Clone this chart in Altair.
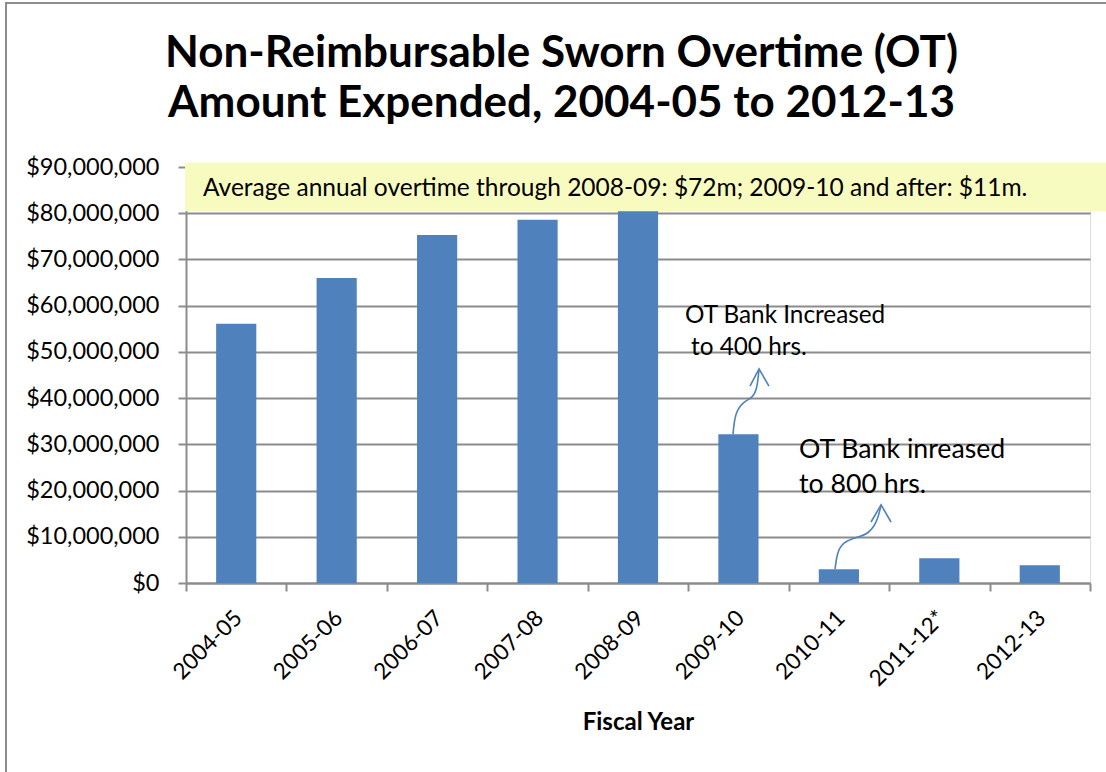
import altair as alt
import pandas as pd

# Fiscal years and non-reimbursable sworn overtime spent in each
years = ["2004-05", "2005-06", "2006-07", "2007-08", "2008-09",
         "2009-10", "2010-11", "2011-12*", "2012-13"]
amounts = [56.1e6, 66.0e6, 75.3e6, 78.6e6, 83.0e6,
           32.2e6, 3.0e6, 5.35e6, 3.85e6]

# Chart title lines
title_lines = ["Non-Reimbursable Sworn Overtime (OT)",
               "Amount Expended, 2004-05 to 2012-13"]

# Callout text lines: text, category position, dollar position, font size
note_text = ["OT Bank Increased", "to 400 hrs.", "OT Bank inreased", "to 800 hrs."]
note_x = [4.468, 4.528, 5.603, 5.603]
note_y = [56.25e6, 49.33e6, 27.04e6, 19.47e6]
note_size = [24.3, 24.3, 26.7, 26.7]

# Curved callout arrows (shaft points, then open arrow heads)
arrow_part = ["a"] * 6 + ["ah"] * 3 + ["b"] * 7 + ["bh"] * 3
arrow_x = [4.946, 4.966, 5.046, 5.135, 5.185, 5.205,
           5.115, 5.205, 5.304,
           5.962, 5.981, 6.041, 6.181, 6.280, 6.380, 6.420,
           6.320, 6.420, 6.519]
arrow_y = [32.2e6, 36.8e6, 39.2e6, 40.0e6, 41.8e6, 46.3e6,
           42.6e6, 46.3e6, 42.6e6,
           3.03e6, 6.5e6, 8.87e6, 9.95e6, 10.4e6, 13.0e6, 16.9e6,
           13.2e6, 16.9e6, 13.2e6]

# Highlighted summary banner
banner_text = "Average annual overtime through 2008-09: $72m; 2009-10 and after: $11m."
banner_x = [-0.51, 8.7]
banner_y = [80.4e6, 91.0e6]
banner_text_pos = [-0.331, 83.73e6]

BLUE = "#4F81BD"
GRID = "#8C8C8C"
FONT = "Lato"

bars = pd.DataFrame({"year": years, "amount": amounts})
bars["idx"] = range(len(years))
bars["x0"] = bars["idx"] - 0.2
bars["x1"] = bars["idx"] + 0.2

notes = pd.DataFrame({"text": note_text, "x": note_x, "y": note_y, "size": note_size})
arrows = pd.DataFrame({"part": arrow_part, "x": arrow_x, "y": arrow_y})
arrows["order"] = range(len(arrows))
banner = pd.DataFrame({"x0": [banner_x[0]], "x1": [banner_x[1]],
                       "y0": [banner_y[0]], "y1": [banner_y[1]],
                       "tx": [banner_text_pos[0]], "ty": [banner_text_pos[1]],
                       "text": [banner_text]})
titles = pd.DataFrame({"text": title_lines, "line": [0, 1]})

label_array = "[" + ",".join("'" + y + "'" for y in years) + ",'']"
tick_values = [i - 0.5 for i in range(len(years) + 1)]

x_scale = alt.Scale(domain=[-0.5, len(years) - 0.5], nice=False, zero=False)
y_scale = alt.Scale(domain=[0, 90e6], nice=False)

x_axis = alt.Axis(
    values=tick_values,
    labelExpr=label_array + "[round(datum.value + 0.5)]",
    labelOffset=52,
    labelAngle=315,
    labelAlign="right",
    labelBaseline="middle",
    labelPadding=23,
    labelOverlap=False,
    labelFlush=False,
    labelBound=False,
    labelFont=FONT,
    labelFontSize=22.5,
    labelColor="black",
    tickSize=8,
    tickColor=GRID,
    tickWidth=2,
    domainColor=GRID,
    domainWidth=2,
    grid=False,
    title="Fiscal Year",
    titleFont=FONT,
    titleFontSize=24,
    titleFontWeight="bold",
    titleColor="black",
    titleY=146,
    titleBaseline="alphabetic",
)
y_axis = alt.Axis(
    values=[i * 10e6 for i in range(10)],
    format="$,.0f",
    labelFont=FONT,
    labelFontSize=23.5,
    labelColor="black",
    labelPadding=19,
    tickSize=8,
    tickColor=GRID,
    tickWidth=2,
    domainColor=GRID,
    domainWidth=2,
    gridColor=GRID,
    gridWidth=2,
    title=None,
)

bar_layer = alt.Chart(bars).mark_bar(color=BLUE).encode(
    x=alt.X("x0:Q", scale=x_scale, axis=x_axis),
    x2="x1:Q",
    y=alt.Y("amount:Q", scale=y_scale, axis=y_axis),
    y2=alt.datum(0),
)

banner_rect = alt.Chart(banner).mark_rect(color="#F8FBC0", clip=False).encode(
    x="x0:Q", x2="x1:Q", y="y0:Q", y2="y1:Q"
)
banner_label = alt.Chart(banner).mark_text(
    font=FONT, fontSize=24.5, align="left", baseline="alphabetic", color="black"
).encode(x="tx:Q", y="ty:Q", text="text:N")

arrow_layer = alt.Chart(arrows).mark_line(
    color=BLUE, strokeWidth=1.6, interpolate="basis"
).encode(
    x="x:Q", y="y:Q", detail="part:N", order="order:Q"
).transform_filter("indexof(['a','b'], datum.part) >= 0")

head_layer = alt.Chart(arrows).mark_line(
    color=BLUE, strokeWidth=1.6
).encode(
    x="x:Q", y="y:Q", detail="part:N", order="order:Q"
).transform_filter("indexof(['ah','bh'], datum.part) >= 0")

note_layer = alt.Chart(notes).mark_text(
    font=FONT, align="left", baseline="alphabetic", color="black"
).encode(
    x="x:Q", y="y:Q", text="text:N", size=alt.Size("size:Q", scale=None)
)

# Two-line heading placed above the plot area
title_layer = alt.Chart(titles).mark_text(
    font=FONT, fontSize=44, fontWeight="bold", align="center",
    baseline="alphabetic", color="black", clip=False
).encode(
    x=alt.value(375.5),
    y=alt.Y("ty:Q", scale=None),
    text="text:N",
).transform_calculate(ty="-100 + 50 * datum.line")

# Thin outer frame around the chart
frame = alt.Chart(bars).mark_rect(
    fill=None, stroke=GRID, strokeWidth=2, clip=False
).encode(
    x=alt.value(-180), x2=alt.value(935), y=alt.value(-164), y2=alt.value(620)
).transform_filter("datum.idx == 0")

chart = alt.layer(
    bar_layer, banner_rect, banner_label, arrow_layer, head_layer, note_layer,
    title_layer, frame
).properties(
    width=904,
    height=416,
    autosize=alt.AutoSizeParams(type="none"),
    padding={"left": 186, "top": 167, "right": 16, "bottom": 189},
).configure_view(stroke=None).configure(background="white")

chart.save("out.html", embed_options={"renderer": "svg", "actions": False})
